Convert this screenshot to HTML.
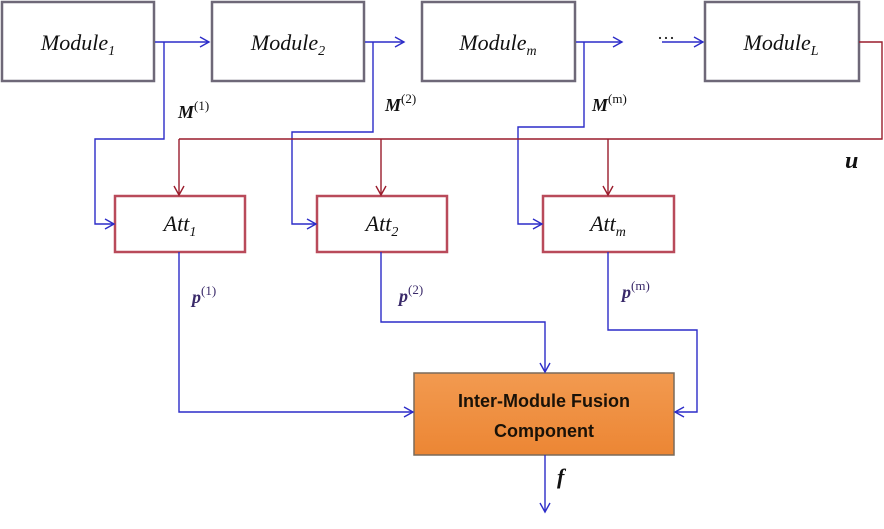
<!DOCTYPE html>
<html><head><style>body{margin:0;background:#fff}</style></head><body>
<svg width="884" height="524" xmlns="http://www.w3.org/2000/svg" font-family="Liberation Serif, serif">
<defs>
<marker id="ab" markerWidth="12" markerHeight="12" refX="10" refY="6" orient="auto" markerUnits="userSpaceOnUse"><path d="M1,1 L10,6 L1,11" fill="none" stroke="#2c2cc8" stroke-width="1.4"/></marker>
<marker id="ar" markerWidth="12" markerHeight="12" refX="10" refY="6" orient="auto" markerUnits="userSpaceOnUse"><path d="M1,1 L10,6 L1,11" fill="none" stroke="#9a1c2c" stroke-width="1.4"/></marker>
<linearGradient id="og" x1="0" y1="0" x2="0" y2="1"><stop offset="0" stop-color="#f29a50"/><stop offset="1" stop-color="#ec8634"/></linearGradient>
</defs>
<g fill="#fff" stroke="#6e6878" stroke-width="2.5">
<rect x="2" y="2" width="152" height="79"/>
<rect x="212" y="2" width="152" height="79"/>
<rect x="422" y="2" width="153" height="79"/>
<rect x="705" y="2" width="154" height="79"/>
</g>
<g fill="#fff" stroke="#b94a5a" stroke-width="2.5">
<rect x="115" y="196" width="130" height="56"/>
<rect x="317" y="196" width="130" height="56"/>
<rect x="543" y="196" width="131" height="56"/>
</g>
<rect x="414" y="373" width="260" height="82" fill="url(#og)" stroke="#7a6a5a" stroke-width="1.5"/>
<g fill="none" stroke="#2c2cc8" stroke-width="1.4">
<path d="M155,42 H209" marker-end="url(#ab)"/>
<path d="M365,42 H404" marker-end="url(#ab)"/>
<path d="M576,42 H622" marker-end="url(#ab)"/>
<path d="M662,42 H703" marker-end="url(#ab)"/>
<path d="M164,42 V139 H95 V224 H114" marker-end="url(#ab)"/>
<path d="M373,42 V132 H292 V224 H316" marker-end="url(#ab)"/>
<path d="M584,42 V127 H518 V224 H542" marker-end="url(#ab)"/>
<path d="M179,252 V412 H413" marker-end="url(#ab)"/>
<path d="M381,252 V322 H545 V372" marker-end="url(#ab)"/>
<path d="M608,252 V330 H697 V412 H675" marker-end="url(#ab)"/>
<path d="M545,455 V512" marker-end="url(#ab)"/>
</g>
<g fill="none" stroke="#9a1c2c" stroke-width="1.4">
<path d="M859,42 H882 V139 H179"/>
<path d="M179,139 V195" marker-end="url(#ar)"/>
<path d="M381,139 V195" marker-end="url(#ar)"/>
<path d="M608,139 V195" marker-end="url(#ar)"/>
</g>
<g font-style="italic" font-size="22" fill="#111" text-anchor="middle">
<text x="78" y="50">Module<tspan font-size="14" dy="5">1</tspan></text>
<text x="288" y="50">Module<tspan font-size="14" dy="5">2</tspan></text>
<text x="498" y="50">Module<tspan font-size="14" dy="5">m</tspan></text>
<text x="781" y="50">Module<tspan font-size="14" dy="5">L</tspan></text>
<text x="180" y="231">Att<tspan font-size="14" dy="5">1</tspan></text>
<text x="382" y="231">Att<tspan font-size="14" dy="5">2</tspan></text>
<text x="608" y="231">Att<tspan font-size="14" dy="5">m</tspan></text>
</g>
<text x="657" y="44" font-size="18" fill="#111">···</text>
<g font-size="18" fill="#111">
<text x="178" y="118" font-weight="bold" font-style="italic">M<tspan font-size="13" font-weight="normal" font-style="normal" dy="-8">(1)</tspan></text>
<text x="385" y="111" font-weight="bold" font-style="italic">M<tspan font-size="13" font-weight="normal" font-style="normal" dy="-8">(2)</tspan></text>
<text x="592" y="111" font-weight="bold" font-style="italic">M<tspan font-size="13" font-weight="normal" font-style="normal" dy="-8">(m)</tspan></text>
<text x="845" y="168" font-size="24" font-weight="bold" font-style="italic">u</text>
</g>
<g font-size="18" fill="#3a2a6a">
<text x="192" y="303" font-weight="bold" font-style="italic">p<tspan font-size="13" font-weight="normal" font-style="normal" dy="-8">(1)</tspan></text>
<text x="399" y="302" font-weight="bold" font-style="italic">p<tspan font-size="13" font-weight="normal" font-style="normal" dy="-8">(2)</tspan></text>
<text x="622" y="298" font-weight="bold" font-style="italic">p<tspan font-size="13" font-weight="normal" font-style="normal" dy="-8">(m)</tspan></text>
</g>
<text x="557" y="484" font-size="22" font-weight="bold" font-style="italic" fill="#111">f</text>
<g font-family="Liberation Sans, sans-serif" font-weight="bold" font-size="18" fill="#1a1208" text-anchor="middle">
<text x="544" y="407">Inter-Module Fusion</text>
<text x="544" y="437">Component</text>
</g>
</svg>
</body></html>
